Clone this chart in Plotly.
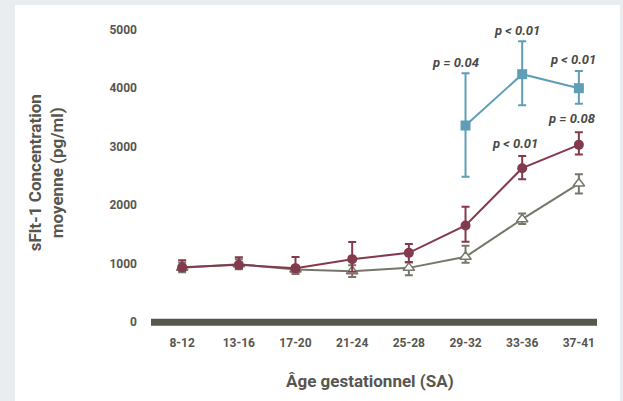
import plotly.graph_objects as go

categories = ["8-12", "13-16", "17-20", "21-24", "25-28", "29-32", "33-36", "37-41"]
x_pos = list(range(len(categories)))

red_vals = [940, 980, 923, 1077, 1185, 1653, 2632, 3031]
red_plus = [120, 130, 190, 295, 152, 320, 210, 217]
red_minus = [60, 60, 60, 215, 155, 280, 190, 165]

gray_vals = [930, 990, 900, 872, 928, 1117, 1760, 2370]
gray_plus = [90, 85, 60, 100, 90, 190, 98, 160]
gray_minus = [75, 85, 75, 100, 125, 100, 80, 170]

blue_idx = [5, 6, 7]
blue_vals = [3362, 4239, 4000]
blue_plus = [894, 564, 296]
blue_minus = [878, 530, 268]

p_labels = ["p = 0.04", "p < 0.01", "p < 0.01", "p < 0.01", "p = 0.08"]
p_x = [4.82, 5.9, 6.9, 5.88, 6.88]
p_y = [4444, 4990, 4495, 3060, 3487]

y_ticks = [0, 1000, 2000, 3000, 4000, 5000]

RED = "#843a4d"
BLUE = "#609db7"
GRAY = "#76766a"
TXT = "#57564f"
FONT = "Roboto"

fig = go.Figure()

fig.add_trace(go.Scatter(
    x=x_pos, y=gray_vals, mode="lines+markers",
    line=dict(color=GRAY, width=2),
    marker=dict(symbol="triangle-up", size=10, color="white", line=dict(width=1.5, color=GRAY)),
    error_y=dict(type="data", array=gray_plus, arrayminus=gray_minus, color=GRAY, thickness=2, width=4),
    showlegend=False,
))
fig.add_trace(go.Scatter(
    x=x_pos, y=red_vals, mode="lines+markers",
    line=dict(color=RED, width=2),
    marker=dict(symbol="circle", size=10, color=RED),
    error_y=dict(type="data", array=red_plus, arrayminus=red_minus, color=RED, thickness=2, width=4),
    showlegend=False,
))
fig.add_trace(go.Scatter(
    x=[x_pos[i] for i in blue_idx], y=blue_vals, mode="lines+markers",
    line=dict(color=BLUE, width=2),
    marker=dict(symbol="square", size=10, color=BLUE),
    error_y=dict(type="data", array=blue_plus, arrayminus=blue_minus, color=BLUE, thickness=2, width=4),
    showlegend=False,
))

for t, xx, yy in zip(p_labels, p_x, p_y):
    fig.add_annotation(x=xx, y=yy, text="<b><i>" + t + "</i></b>", showarrow=False,
                       font=dict(family=FONT, size=13, color="#4a4a45"))

# white panel
fig.add_shape(type="rect", xref="paper", yref="paper", x0=-0.305, x1=1.0516, y0=-0.24, y1=1.042,
              fillcolor="white", line=dict(width=0), layer="below")
# thick baseline
fig.add_shape(type="line", xref="paper", yref="y", x0=0, x1=1, y0=0, y1=0,
              line=dict(color="#57564f", width=7), layer="below")

fig.add_annotation(xref="paper", yref="paper", x=-0.235, y=0.5, xanchor="center", yanchor="middle",
                   text="<b>sFlt-1 Concentration<br>moyenne (pg/ml)</b>", textangle=-90,
                   showarrow=False, font=dict(family=FONT, size=17, color=TXT))
fig.add_annotation(xref="paper", yref="paper", x=0.49, y=-0.17, xanchor="center", yanchor="middle",
                   text="<b>Âge gestationnel (SA)</b>",
                   showarrow=False, font=dict(family=FONT, size=17, color=TXT))

fig.update_layout(
    width=623, height=401,
    margin=dict(l=151, r=26, t=18, b=73),
    paper_bgcolor="#e9edf0",
    plot_bgcolor="rgba(0,0,0,0)",
    font=dict(family=FONT, color=TXT),
    xaxis=dict(range=[-0.55, 7.32], tickvals=x_pos, ticktext=["<b>" + c + "</b>" for c in categories],
               showgrid=False, zeroline=False, showline=False, ticks="",
               tickfont=dict(family=FONT, size=12, color=TXT), ticklabelstandoff=6),
    yaxis=dict(range=[-100, 5200], tickvals=y_ticks, ticktext=["<b>%d</b>" % v for v in y_ticks],
               showgrid=False, zeroline=False, showline=False, ticks="",
               tickfont=dict(family=FONT, size=12, color=TXT), ticklabelstandoff=13),
)

fig.write_html("out.html", config={"displayModeBar": False},
               post_script="document.body.style.margin='0';document.body.style.background='#e9edf0';")
